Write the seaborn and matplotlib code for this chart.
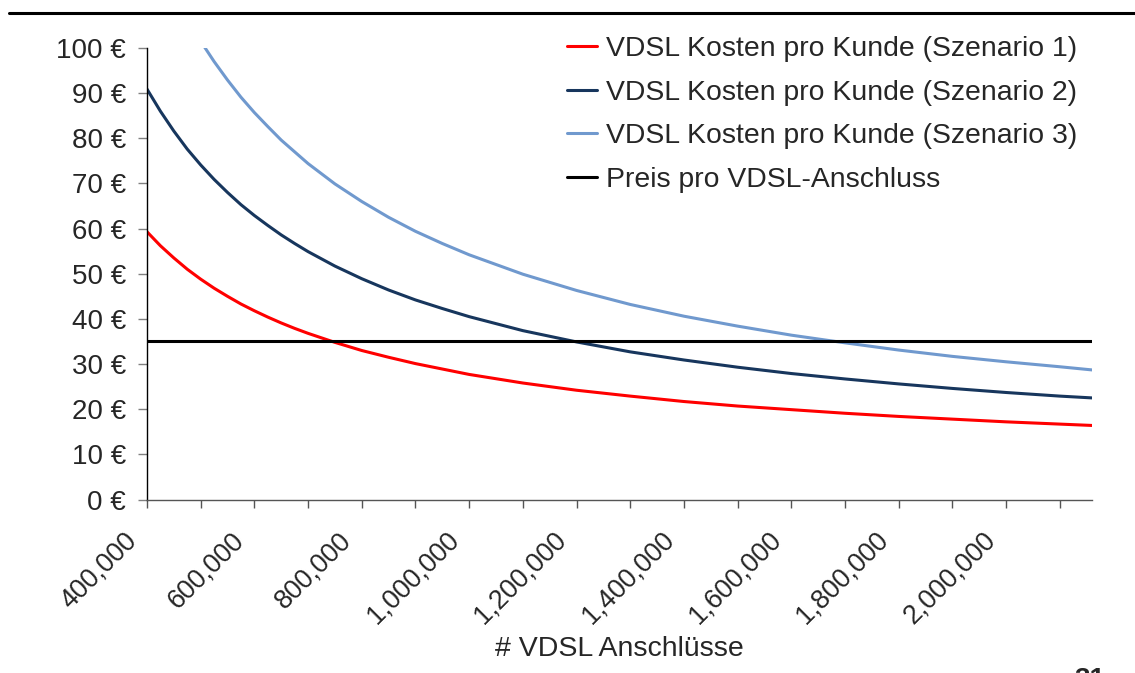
import numpy as np
import pandas as pd
import matplotlib.pyplot as plt
import matplotlib.transforms as mtransforms
from matplotlib.lines import Line2D
from matplotlib.ticker import FixedLocator, FuncFormatter
import seaborn as sns

# Anzahl VDSL-Anschlüsse (x-Werte)
anschluesse = [400000, 425000, 450000, 475000, 500000, 525000, 550000, 575000,
               600000, 625000, 650000, 675000, 700000, 750000, 800000, 850000,
               900000, 950000, 1000000, 1100000, 1200000, 1300000, 1400000,
               1500000, 1600000, 1700000, 1800000, 1900000, 2000000, 2100000, 2160000]

# Kosten pro Kunde in EUR
szenario_1 = [59.3, 56.2, 53.5, 51.0, 48.8, 46.8, 45.0, 43.3, 41.8, 40.4, 39.1, 37.9,
              36.8, 34.8, 33.0, 31.5, 30.1, 28.9, 27.7, 25.8, 24.2, 22.9, 21.7,
              20.7, 19.9, 19.1, 18.4, 17.8, 17.2, 16.7, 16.4]
szenario_2 = [90.9, 86.0, 81.6, 77.6, 74.1, 70.9, 68.0, 65.3, 62.9, 60.7, 58.6, 56.7,
              54.9, 51.7, 48.9, 46.4, 44.2, 42.3, 40.5, 37.4, 34.9, 32.7, 30.9,
              29.3, 27.9, 26.7, 25.6, 24.6, 23.7, 22.9, 22.5]
szenario_3 = [np.nan, np.nan, np.nan, np.nan, 101.5, 97.0, 92.9, 89.1, 85.7, 82.6, 79.6,
              77.0, 74.4, 69.9, 66.0, 62.5, 59.4, 56.7, 54.2, 49.9, 46.3, 43.2, 40.6,
              38.4, 36.4, 34.7, 33.1, 31.7, 30.5, 29.4, 28.7]
preis = [35.0] * len(anschluesse)

serien_namen = ['VDSL Kosten pro Kunde (Szenario 1)',
                'VDSL Kosten pro Kunde (Szenario 2)',
                'VDSL Kosten pro Kunde (Szenario 3)',
                'Preis pro VDSL-Anschluss']
farben = ['#ff0000', '#17365d', '#7099ce', '#000000']

y_ticks = list(range(0, 101, 10))
x_ticks = list(range(400000, 2100001, 100000))

# Long-Format fuer seaborn
frames = []
for name, werte in zip(serien_namen, [szenario_1, szenario_2, szenario_3, preis]):
    frames.append(pd.DataFrame({'x': anschluesse, 'y': werte, 'serie': name}))
df = pd.concat(frames).dropna()

sns.set_style('white')
plt.rcParams['font.family'] = ['Liberation Sans', 'DejaVu Sans']

fig = plt.figure(figsize=(11.35, 6.73), dpi=100)
ax = fig.add_axes([0.1295, 0.2578, 0.8326, 0.6709])

sns.lineplot(data=df, x='x', y='y', hue='serie', hue_order=serien_namen,
             palette=dict(zip(serien_namen, farben)), estimator=None, sort=False,
             linewidth=2.2, ax=ax)

ax.set_xlim(400000, 2160000)
ax.set_ylim(0, 100)

ax.yaxis.set_major_locator(FixedLocator(y_ticks))
ax.yaxis.set_major_formatter(FuncFormatter(lambda v, p: f'{v:.0f} €'))
ax.xaxis.set_major_locator(FixedLocator(x_ticks))
ax.xaxis.set_major_formatter(
    FuncFormatter(lambda v, p: f'{v:,.0f}' if int(round(v)) % 200000 == 0 else ''))

ax.tick_params(axis='y', direction='out', length=6.5, width=1, color='#808080',
               labelsize=20, pad=8.5, left=True)
ax.tick_params(axis='x', direction='out', length=6, width=1, color='#555555',
               labelsize=19.3, pad=14, bottom=True)
for lbl in ax.get_xticklabels():
    lbl.set_rotation(45)
    lbl.set_ha('right')
    lbl.set_va('top')

for s in ['top', 'right']:
    ax.spines[s].set_visible(False)
ax.spines['left'].set_color('black')
ax.spines['left'].set_linewidth(1.0)
ax.spines['bottom'].set_color('#555555')
ax.spines['bottom'].set_linewidth(1.0)

ax.set_ylabel('')
ax.set_xlabel('# VDSL Anschlüsse', fontsize=20.5)
ax.xaxis.set_label_coords(0.5, -0.33)
ax.xaxis.label.set_va('center')

# Legende
handles = [Line2D([0], [0], color=c, lw=2.2) for c in farben]
ax.legend(handles, serien_namen, loc='upper left', bbox_to_anchor=(567 / 1135, 1 - 36 / 673),
          bbox_transform=fig.transFigure, frameon=False, fontsize=20.4, borderpad=0,
          borderaxespad=0, handlelength=1.07, handletextpad=0.29, labelspacing=0.62)

# Linie oben
fig.add_artist(Line2D([9 / 1135, 1], [1 - 13 / 673, 1 - 13 / 673], transform=fig.transFigure,
                      color='black', lw=2.2))
# abgeschnittene Seitenzahl (im Original nur angeschnitten sichtbar)
fig.text(1090 / 1135, 1 - 667 / 673, '31', fontsize=20, fontweight='bold',
         ha='center', va='top')

# Labels etwas nach links verschieben (wie im Original)
fig.canvas.draw()
offset = mtransforms.ScaledTranslation(-0.05, 0, fig.dpi_scale_trans)
for lbl in ax.get_xticklabels():
    lbl.set_transform(lbl.get_transform() + offset)

plt.savefig('out.png', dpi=100)
